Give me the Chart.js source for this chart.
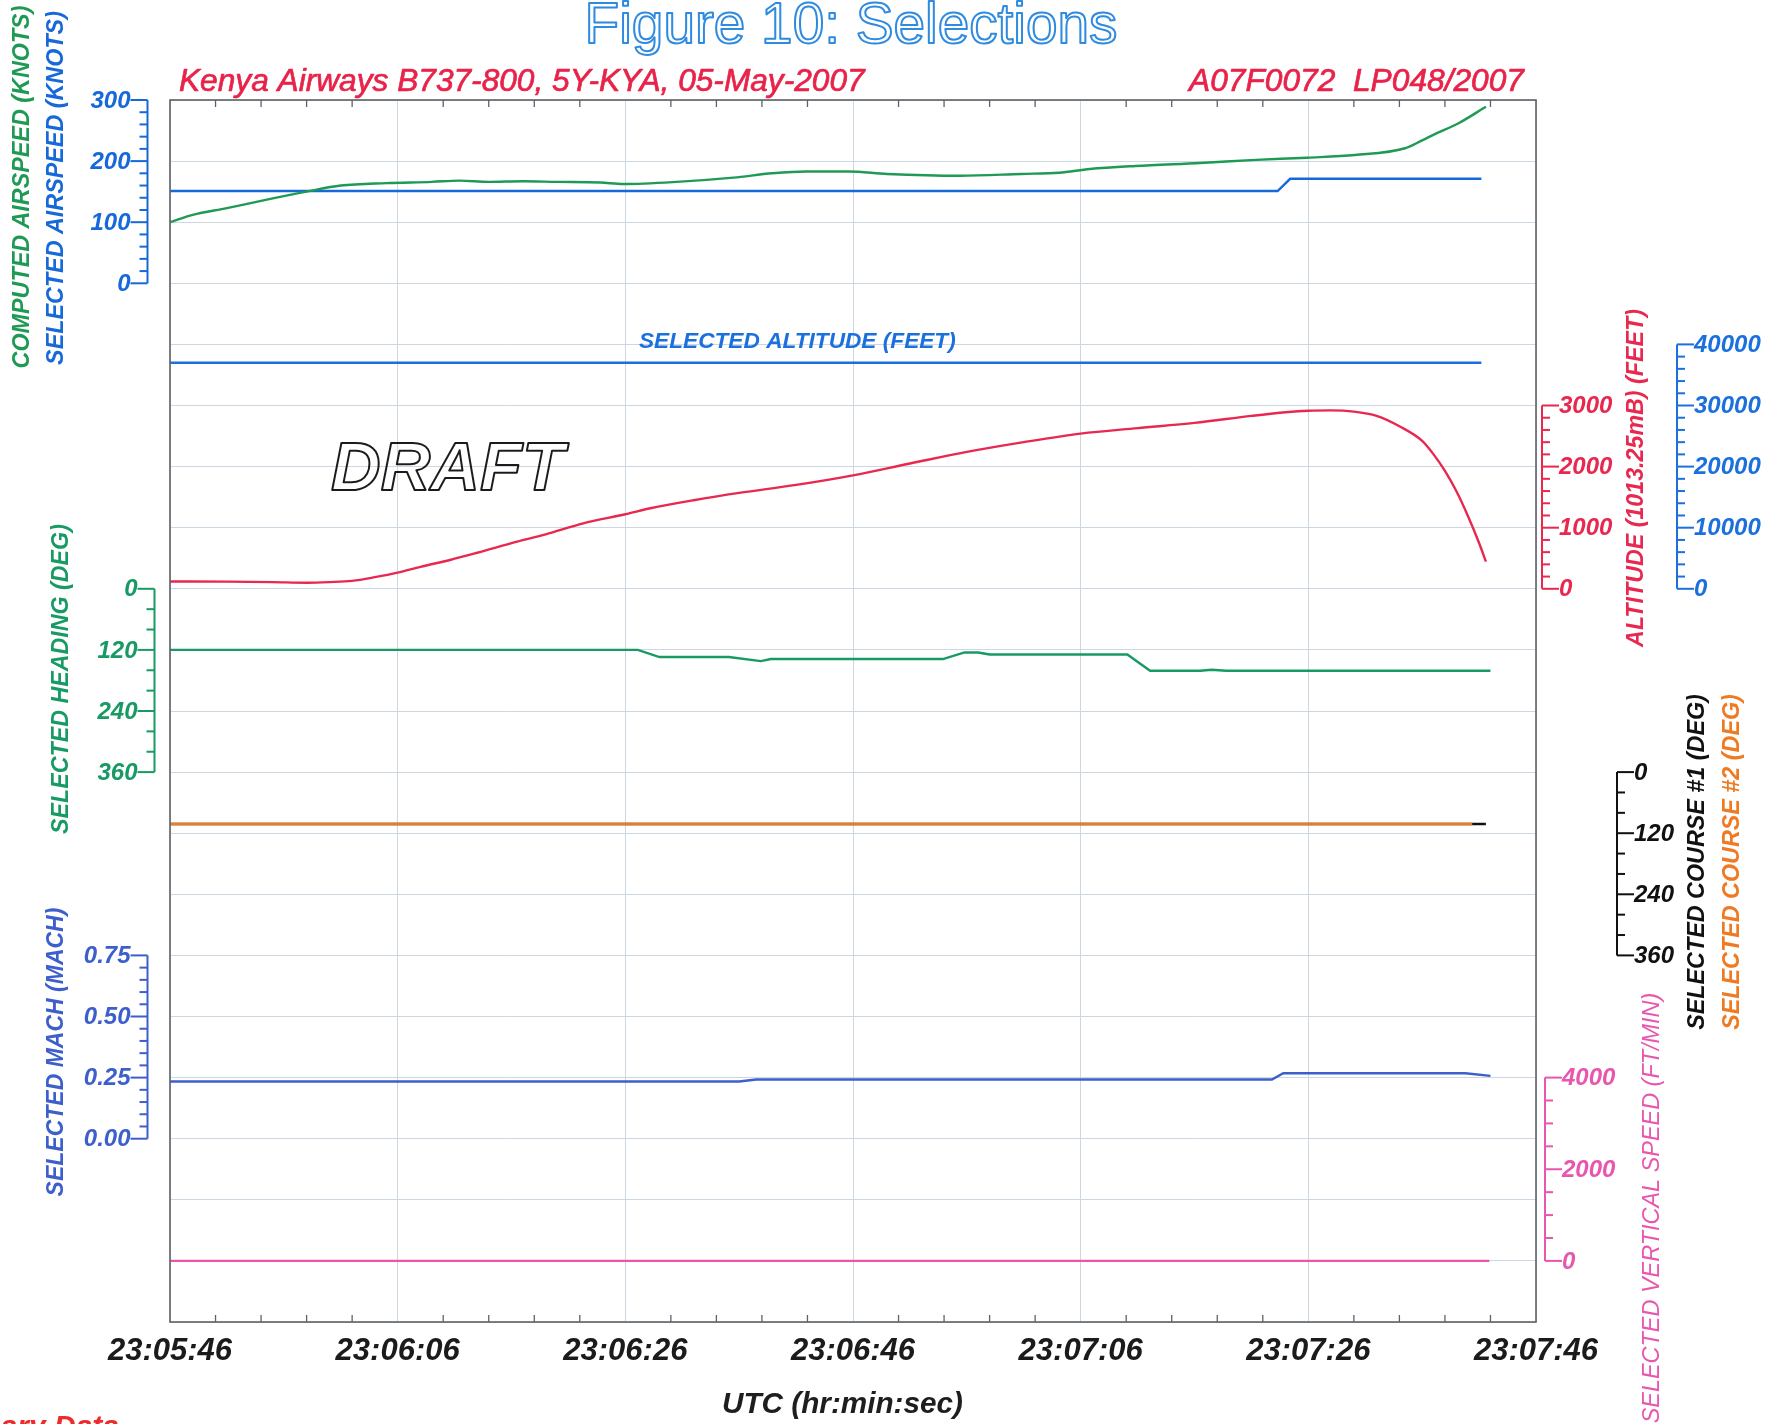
<!DOCTYPE html>
<html>
<head>
<meta charset="utf-8">
<script src="https://cdn.jsdelivr.net/npm/chart.js@4.4.1/dist/chart.umd.min.js"></script>
<style>
  html, body { margin: 0; padding: 0; background: #ffffff; }
  #wrap { width: 1779px; height: 1424px; position: relative; overflow: hidden; }
  canvas { display: block; }
</style>
</head>
<body>
<div id="wrap"><canvas id="chart" width="1779" height="1424"></canvas></div>
<script>
// ---------- time axis (seconds after 23:05:46) ----------
const timeTickLabels = ['23:05:46', '23:06:06', '23:06:26', '23:06:46', '23:07:06', '23:07:26', '23:07:46'];

// ---------- computed airspeed (knots) ----------
const casTime  = [0, 2, 5, 8, 12, 15, 19, 23, 25.4, 28, 31, 34, 37.8, 39.8, 44.5, 49.5, 52.9, 55.9, 59.6, 63,
                  69.4, 74.8, 78.1, 80.8, 84.8, 90.5, 95.4, 99.9, 104.1, 108.5, 110, 111.2, 113.2, 115.6];
const casKnots = [100, 112, 123, 135, 150, 160, 164, 166, 168, 166, 167, 166, 165, 162.5, 166, 173, 180, 183, 183, 179,
                  176, 179, 181, 187, 192, 197, 202, 205.6, 210, 221, 234, 245, 262, 289];

// ---------- selected airspeed (knots) ----------
const sasTime  = [0, 97.3, 98.4, 115.2];
const sasKnots = [151, 151, 171, 171];

// ---------- selected altitude (feet) ----------
const selAltTime = [0, 115.2];
const selAltFeet = [37000, 37000];

// ---------- pressure altitude, 1013.25 mB (feet) ----------
const altTime = [0, 5, 9, 12, 14, 16, 18, 20, 22, 24.6, 27, 30.5, 33, 36.3, 40, 42.2, 46, 50, 55, 60,
                 65, 70, 75, 80, 85, 90, 95, 98, 100, 102, 104, 106, 108, 110, 111, 112, 113, 114, 115, 115.6];
const altFeet = [120, 118, 110, 100, 110, 130, 190, 264, 360, 472, 590, 771, 890, 1072, 1220, 1318, 1450, 1570, 1700, 1857,
                 2050, 2240, 2400, 2540, 2630, 2715, 2830, 2890, 2915, 2920, 2900, 2830, 2660, 2420, 2200, 1930, 1600, 1200, 750, 446];

// ---------- selected heading (deg) ----------
const hdgTime = [0, 41.1, 43, 49.1, 51.9, 52.8, 67.9, 69.8, 71, 72, 84.1, 86.1, 90.5, 91.5, 92.8, 116];
const hdgDeg  = [120, 120, 134, 134, 142, 138, 138, 125, 125, 129, 129, 161, 161, 159, 161, 161];

// ---------- selected courses (deg) ----------
const crs1Time = [0, 115.6];
const crs1Deg  = [102, 102];
const crs2Time = [0, 114.4];
const crs2Deg  = [102, 102];

// ---------- selected mach ----------
const machTime = [0, 50, 51.5, 96.8, 97.8, 113.8, 116];
const machVal  = [0.234, 0.234, 0.242, 0.242, 0.268, 0.268, 0.257];

// ---------- selected vertical speed (ft/min) ----------
const vsTime = [0, 115.9];
const vsFpm  = [0, 0];

// ---------- axis tick values ----------
const airspeedTicks = [0, 100, 200, 300];
const headingTicks  = [0, 120, 240, 360];
const machTicks     = [0, 0.25, 0.5, 0.75];
const altitudeTicks = [0, 1000, 2000, 3000];
const selAltTicks   = [0, 10000, 20000, 30000, 40000];
const courseTicks   = [0, 120, 240, 360];
const vsTicks       = [0, 2000, 4000];

// ---------------------------------------------------------------------------
const FONT = '"Liberation Sans", Arial, Helvetica, sans-serif';
const ROWS = 20;
const GRID_COLOR = '#cdd7e2';

const C = {
  cas: '#1f9a55', sas: '#1769d9', alt: '#e8284f', salt: '#1b70dd', hdg: '#179a63',
  crs1: '#111111', crs2: '#f07a22', mach: '#3d5fcc', vs: '#e956ae', title: '#2f8be0'
};

const pts = (t, v) => t.map((x, i) => ({ x, y: v[i] }));

// A value scale whose value `topVal` sits on grid row `topRow` and `botVal` on `botRow`.
function rowScale(topVal, topRow, botVal, botRow) {
  const per = (botVal - topVal) / (botRow - topRow);
  const vFirst = topVal - topRow * per;
  const vLast = topVal + (ROWS - topRow) * per;
  if (per < 0) return { type: 'linear', display: false, min: vLast, max: vFirst };
  return { type: 'linear', display: false, min: vFirst, max: vLast, reverse: true };
}

function line(label, t, v, axis, color, extra) {
  return Object.assign({
    label, data: pts(t, v), yAxisID: axis, borderColor: color, backgroundColor: color,
    borderWidth: 2.4, pointRadius: 0, tension: 0, fill: false
  }, extra || {});
}

function fitSize(ctx, text, style, width) {
  ctx.font = `${style} 100px ${FONT}`;
  return 100 * width / ctx.measureText(text).width;
}

function hText(ctx, text, x, y, width, style, color, align, mode) {
  const size = fitSize(ctx, text, style, width);
  ctx.font = `${style} ${size}px ${FONT}`;
  ctx.textAlign = align || 'left';
  ctx.textBaseline = 'alphabetic';
  if (mode === 'outline') {
    ctx.strokeStyle = color; ctx.lineWidth = 2; ctx.lineJoin = 'round';
    ctx.strokeText(text, x, y);
  } else {
    ctx.fillStyle = color;
    ctx.fillText(text, x, y);
    if (mode === 'heavy') { ctx.strokeStyle = color; ctx.lineWidth = 0.7; ctx.strokeText(text, x, y); }
  }
}

function vText(ctx, text, cx, cy, len, style, color) {
  ctx.save();
  ctx.translate(cx, cy);
  ctx.rotate(-Math.PI / 2);
  const size = fitSize(ctx, text, style, len);
  ctx.font = `${style} ${size}px ${FONT}`;
  ctx.fillStyle = color;
  ctx.textAlign = 'center';
  ctx.textBaseline = 'middle';
  ctx.fillText(text, 0, 0);
  ctx.restore();
}

// Short bracket axis drawn beside the plot for one series scale
function bracket(ctx, scale, spec) {
  const { x, side, ticks, minor, color, fmt } = spec;
  const dir = side === 'left' ? -1 : 1;
  const lo = ticks[0], hi = ticks[ticks.length - 1];
  const y0 = scale.getPixelForValue(lo), y1 = scale.getPixelForValue(hi);
  ctx.save();
  ctx.strokeStyle = color; ctx.fillStyle = color; ctx.lineWidth = 2;
  ctx.beginPath(); ctx.moveTo(x, y0); ctx.lineTo(x, y1); ctx.stroke();
  const n = Math.round((hi - lo) / minor);
  for (let i = 0; i <= n; i++) {
    const v = lo + i * minor;
    const y = scale.getPixelForValue(v);
    const isMajor = ticks.some(t => Math.abs(t - v) < minor * 1e-3);
    ctx.beginPath(); ctx.moveTo(x, y); ctx.lineTo(x + dir * (isMajor ? 17 : 8), y); ctx.stroke();
  }
  ctx.font = `bold italic 24px ${FONT}`;
  ctx.textAlign = side === 'left' ? 'right' : 'left';
  ctx.textBaseline = 'middle';
  ticks.forEach(t => ctx.fillText(fmt ? fmt(t) : String(t), x + dir * 17, scale.getPixelForValue(t) + 1));
  ctx.restore();
}

const overlay = {
  id: 'overlay',
  beforeDraw(chart) {
    const ctx = chart.ctx;
    ctx.save(); ctx.fillStyle = '#ffffff'; ctx.fillRect(0, 0, chart.width, chart.height); ctx.restore();
  },
  afterDraw(chart) {
    const ctx = chart.ctx, a = chart.chartArea, s = chart.scales;

    // plot frame
    ctx.save();
    ctx.strokeStyle = '#5d6266'; ctx.lineWidth = 1.6;
    ctx.strokeRect(a.left, a.top, a.right - a.left, a.bottom - a.top);
    // minor time ticks every 4 s, pointing inward, top and bottom
    ctx.lineWidth = 1.3;
    for (let t = 4; t < 120; t += 4) {
      if (t % 20 === 0) continue;
      const x = s.x.getPixelForValue(t);
      ctx.beginPath(); ctx.moveTo(x, a.bottom); ctx.lineTo(x, a.bottom - 7); ctx.stroke();
      ctx.beginPath(); ctx.moveTo(x, a.top); ctx.lineTo(x, a.top + 7); ctx.stroke();
    }
    ctx.restore();

    // bracket axes
    bracket(ctx, s.yCas, { x: 147.5, side: 'left', ticks: airspeedTicks, minor: 20, color: C.sas });
    bracket(ctx, s.yHdg, { x: 154.5, side: 'left', ticks: headingTicks, minor: 40, color: C.hdg });
    bracket(ctx, s.yMach, { x: 147.5, side: 'left', ticks: machTicks, minor: 0.05, color: C.mach, fmt: v => v.toFixed(2) });
    bracket(ctx, s.yAlt, { x: 1542, side: 'right', ticks: altitudeTicks, minor: 200, color: C.alt });
    bracket(ctx, s.ySelAlt, { x: 1677, side: 'right', ticks: selAltTicks, minor: 2000, color: C.salt });
    bracket(ctx, s.yCrs, { x: 1617, side: 'right', ticks: courseTicks, minor: 40, color: C.crs1 });
    bracket(ctx, s.yVs, { x: 1545, side: 'right', ticks: vsTicks, minor: 500, color: C.vs });

    // headings
    ctx.save();
    hText(ctx, 'Figure 10: Selections', 851, 43, 533, 'normal', C.title, 'center', 'outline');
    hText(ctx, 'Kenya Airways B737-800, 5Y-KYA, 05-May-2007', 179, 91, 686, 'italic', '#e8234a', 'left', 'heavy');
    hText(ctx, 'A07F0072  LP048/2007', 1524, 91, 335, 'italic', '#e8234a', 'right', 'heavy');
    hText(ctx, 'SELECTED ALTITUDE (FEET)', 639, 348, 317, 'bold italic', C.salt, 'left');
    hText(ctx, 'DRAFT', 331, 490, 233, 'bold italic', '#1b1b1b', 'left', 'outline');
    hText(ctx, 'UTC (hr:min:sec)', 722, 1413, 241, 'bold italic', '#1e1e1e', 'left');
    ctx.font = `bold italic 30px ${FONT}`; ctx.fillStyle = '#ee2a2a'; ctx.textAlign = 'right'; ctx.textBaseline = 'alphabetic';
    ctx.fillText('Preliminary Data', 119, 1436);

    // rotated axis titles
    vText(ctx, 'COMPUTED AIRSPEED (KNOTS)', 23, 187, 363, 'bold italic', C.cas);
    vText(ctx, 'SELECTED AIRSPEED (KNOTS)', 57, 188, 354, 'bold italic', C.sas);
    vText(ctx, 'SELECTED HEADING (DEG)', 62, 679, 310, 'bold italic', C.hdg);
    vText(ctx, 'SELECTED MACH (MACH)', 57, 1052, 289, 'bold italic', C.mach);
    vText(ctx, 'ALTITUDE (1013.25mB) (FEET)', 1637, 478, 338, 'bold italic', C.alt);
    vText(ctx, 'SELECTED COURSE #1 (DEG)', 1698, 862, 336, 'bold italic', C.crs1);
    vText(ctx, 'SELECTED COURSE #2 (DEG)', 1733, 862, 336, 'bold italic', C.crs2);
    vText(ctx, 'SELECTED VERTICAL SPEED (FT/MIN)', 1652, 1208, 431, 'italic', C.vs);
    ctx.restore();
  }
};

const scales = {
  x: {
    type: 'linear', min: 0, max: 120,
    ticks: {
      stepSize: 20, autoSkip: false, maxRotation: 0, padding: 11, color: '#1b1b1b',
      font: { family: FONT, size: 31, style: 'italic', weight: 'bold' },
      callback: v => timeTickLabels[Math.round(v / 20)]
    },
    grid: { color: GRID_COLOR, lineWidth: 1, drawTicks: false },
    border: { display: false },
    afterFit: sc => { sc.height = 102; }
  },
  yGrid: {
    type: 'linear', position: 'left', min: 0, max: ROWS, reverse: true,
    ticks: { display: false, stepSize: 1 },
    grid: { color: GRID_COLOR, lineWidth: 1, drawTicks: false },
    border: { display: false },
    afterFit: sc => { sc.width = 0; }
  },
  yCas: rowScale(300, 0, 0, 3),
  ySelAlt: rowScale(40000, 4, 0, 8),
  yAlt: rowScale(3000, 5, 0, 8),
  yHdg: rowScale(0, 8, 360, 11),
  yCrs: rowScale(0, 11, 360, 14),
  yMach: rowScale(0.75, 14, 0, 17),
  yVs: rowScale(4000, 16, 0, 19)
};

new Chart(document.getElementById('chart'), {
  type: 'line',
  data: {
    datasets: [
      line('Computed airspeed', casTime, casKnots, 'yCas', C.cas, { tension: 0.3, cubicInterpolationMode: 'monotone' }),
      line('Selected airspeed', sasTime, sasKnots, 'yCas', C.sas),
      line('Selected altitude', selAltTime, selAltFeet, 'ySelAlt', C.salt),
      line('Altitude', altTime, altFeet, 'yAlt', C.alt, { cubicInterpolationMode: 'monotone' }),
      line('Selected heading', hdgTime, hdgDeg, 'yHdg', C.hdg),
      line('Selected course #2', crs2Time, crs2Deg, 'yCrs', C.crs2, { order: 1 }),
      line('Selected course #1', crs1Time, crs1Deg, 'yCrs', C.crs1, { order: 2 }),
      line('Selected mach', machTime, machVal, 'yMach', C.mach),
      line('Selected vertical speed', vsTime, vsFpm, 'yVs', C.vs)
    ]
  },
  options: {
    responsive: false,
    animation: false,
    devicePixelRatio: 1,
    parsing: true,
    layout: { padding: { left: 170, right: 243, top: 100, bottom: 0 } },
    plugins: { legend: { display: false }, tooltip: { enabled: false } },
    scales
  },
  plugins: [overlay]
});
</script>
</body>
</html>
